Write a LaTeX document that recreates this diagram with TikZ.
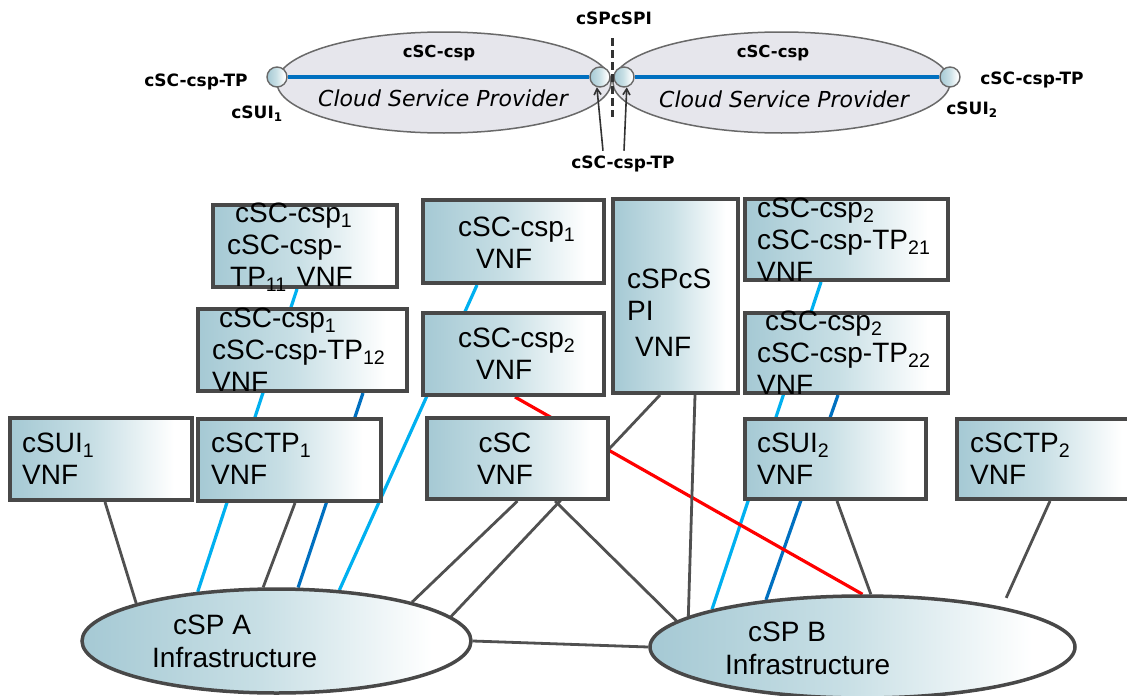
\documentclass[tikz,border=0pt]{standalone}
\usepackage{fontspec}
\setmainfont{Liberation Sans}
\newfontfamily\djv{DejaVu Sans}[BoldFont={DejaVu Sans Bold},ItalicFont={DejaVu Sans Oblique},BoldItalicFont={DejaVu Sans Bold Oblique}]
\usetikzlibrary{arrows.meta,shapes.geometric}
\definecolor{boxblue}{RGB}{165,201,212}
\definecolor{boxmid}{RGB}{200,223,229}
\definecolor{bord}{RGB}{72,72,72}
\definecolor{lgray}{RGB}{80,80,80}
\definecolor{lcyan}{RGB}{0,176,240}
\definecolor{dblue}{RGB}{0,112,192}
\definecolor{topfill}{RGB}{230,230,236}
\definecolor{topbord}{RGB}{105,105,105}
\definecolor{arrowc}{RGB}{50,50,50}
\pgfdeclarehorizontalshading{vnf}{100bp}{color(0bp)=(boxblue); color(25bp)=(boxblue); color(48bp)=(boxmid); color(70bp)=(white); color(100bp)=(white)}
\pgfdeclarelayer{bg}
\pgfsetlayers{bg,main}
\begin{document}
\begin{tikzpicture}[x=1pt,y=-1pt,
  vbox/.style={rectangle, draw=bord, line width=4pt, shade, shading=vnf, inner sep=0pt},
  infra/.style={ellipse, draw=bord, line width=3.5pt, shade, shading=vnf, inner sep=0pt},
  vtxt/.style={font=\fontsize{28}{32}\selectfont, align=left, anchor=west, inner sep=0pt},
  itxt/.style={font=\fontsize{28}{33}\selectfont, align=left, anchor=west, inner sep=0pt},
  topell/.style={ellipse, draw=topbord, line width=1.5pt, fill=topfill, inner sep=0pt},
  tpc/.style={circle, draw=topbord, line width=1.4pt, shade, shading=vnf, minimum size=20pt, inner sep=0pt},
  tlab/.style={font=\djv\bfseries\fontsize{17}{20}\selectfont, inner sep=0pt},
  tname/.style={font=\djv\bfseries\fontsize{16.5}{20}\selectfont, inner sep=0pt},
  tcsp/.style={font=\djv\itshape\fontsize{22}{24}\selectfont, inner sep=0pt},
  topline/.style={draw=dblue, line width=4.5pt},
  dashl/.style={draw=arrowc, line width=3pt, dash pattern=on 8pt off 4pt},
  tparrow/.style={draw=arrowc, line width=1.6pt, -{Straight Barb[length=6pt,width=7pt]}},
  grl/.style={draw=lgray, line width=2.8pt},
  cyl/.style={draw=lcyan, line width=3.2pt},
  dbl/.style={draw=dblue, line width=3.2pt},
  rdl/.style={draw=red, line width=3.2pt}]
\useasboundingbox (0,0) rectangle (1127,696);
\begin{pgfonlayer}{bg}
\fill[white] (0,0) rectangle (1127,696);
\end{pgfonlayer}

% ---------- top: cloud service providers ----------
\node[topell, minimum width=334pt, minimum height=101pt] (TL) at (444,82.5) {};
\node[topell, minimum width=337pt, minimum height=101pt] (TR) at (781.5,82.5) {};
\node[tpc] (c1) at (277,77) {};
\node[tpc] (c2) at (600,77) {};
\node[tpc] (c3) at (624,77) {};
\node[tpc] (c4) at (950,77) {};
\draw[topline] (c1.east) -- (c2.west);
\draw[topline] (c3.east) -- (c4.west);
\coordinate (dtop) at (612,38);
\coordinate (dbot) at (612,117);
\draw[dashl] (dtop) -- (dbot);

\node[tlab] (spi) at (614,18) {cSPcSPI};
\node[tname] (cscL) at (439,53) {cSC-csp};
\node[tname] (cscR) at (773,53) {cSC-csp};
\node[tcsp] (cspL) at (443,98) {Cloud Service Provider};
\node[tcsp] (cspR) at (784,99) {Cloud Service Provider};
\node[tlab] (tpL) at (196,82) {cSC-csp-TP};
\node[tlab] (suiL) at (257,114) {cSUI\textsubscript{1}};
\node[tlab] (tpR) at (1032,80) {cSC-csp-TP};
\node[tlab] (suiR) at (972,110) {cSUI\textsubscript{2}};
\node[tlab] (tpB) at (623,164) {cSC-csp-TP};
\draw[tparrow] ([xshift=-20pt,yshift=5pt]tpB.north) -- (c2.253);
\draw[tparrow] ([xshift=1pt,yshift=5pt]tpB.north) -- (c3.285);

% ---------- VNF boxes ----------
\node[vbox, minimum width=184pt, minimum height=82pt] (B1) at (305,246) {};
\node[vbox, minimum width=209pt, minimum height=82pt] (B2) at (302.5,350) {};
\node[vbox, minimum width=181pt, minimum height=83pt] (B3) at (513.5,241.5) {};
\node[vbox, minimum width=181pt, minimum height=82pt] (B4) at (513.5,354) {};
\node[vbox, minimum width=125pt, minimum height=194pt] (B5) at (675.5,296) {};
\node[vbox, minimum width=203pt, minimum height=81pt] (B6) at (846.5,239.5) {};
\node[vbox, minimum width=203pt, minimum height=80pt] (B7) at (846.5,353) {};
\node[vbox, minimum width=182pt, minimum height=82pt] (C1) at (101,459) {};
\node[vbox, minimum width=183pt, minimum height=82pt] (C2) at (289.5,460) {};
\node[vbox, minimum width=181pt, minimum height=81pt] (C3) at (517.5,458.5) {};
\node[vbox, minimum width=181pt, minimum height=80pt] (C4) at (835.5,459) {};
\node[vbox, minimum width=183pt, minimum height=80pt] (C5) at (1048.5,459) {};
\node[infra, minimum width=389pt, minimum height=104pt] (A) at (276.5,641) {};
\node[infra, minimum width=425pt, minimum height=102pt] (B) at (862.5,647) {};

\node[vtxt] (B1t) at (227,247) {\hspace*{8pt}cSC-csp\textsubscript{1}\\cSC-csp-\\\hspace*{3pt}TP\textsubscript{11}\hspace{10pt}VNF};
\node[vtxt] (B2t) at (212,350) {\hspace*{7pt}cSC-csp\textsubscript{1}\\cSC-csp-TP\textsubscript{12}\\VNF};
\node[vtxt] (B3t) at (458,242.5) {cSC-csp\textsubscript{1}\\\hspace*{18pt}VNF};
\node[vtxt] (B4t) at (458,353.5) {cSC-csp\textsubscript{2}\\\hspace*{18pt}VNF};
\node[vtxt] (B5t) at (627,312.5) {cSPcS\\PI\\[4pt]\hspace*{8pt}VNF};
\node[vtxt] (B6t) at (757,240) {cSC-csp\textsubscript{2}\\cSC-csp-TP\textsubscript{21}\\VNF};
\node[vtxt] (B7t) at (757,352.5) {\hspace*{8pt}cSC-csp\textsubscript{2}\\cSC-csp-TP\textsubscript{22}\\VNF};
\node[vtxt] (C1t) at (22,459) {cSUI\textsubscript{1}\\VNF};
\node[vtxt] (C2t) at (211,459) {cSCTP\textsubscript{1}\\VNF};
\node[vtxt, align=center, anchor=center] (C3t) at (505,459) {cSC\\VNF};
\node[vtxt] (C4t) at (757,459) {cSUI\textsubscript{2}\\VNF};
\node[vtxt] (C5t) at (970,459) {cSCTP\textsubscript{2}\\VNF};
\node[itxt] (At) at (152,641.5) {\hspace*{21pt}cSP A\\Infrastructure};
\node[itxt] (Bt) at (725,648.5) {\hspace*{23pt}cSP B\\Infrastructure};

% ---------- connectors (behind the boxes) ----------
\begin{pgfonlayer}{bg}
\draw[cyl] ([xshift=-8pt]B1.south) -- (A.148);
\draw[cyl] ([xshift=-36.5pt]B3.south) -- (A.39);
\draw[dbl] ([xshift=60.5pt]B2.south) -- (A.68);
\draw[cyl] ([xshift=-25.5pt]B6.south) -- (B.166);
\draw[dbl] ([xshift=-8.5pt]B7.south) -- (B.154);
\draw[rdl] ([xshift=1.5pt]B4.south) -- (B.90);
\draw[grl] ([xshift=4pt]C1.south) -- (A.165);
\draw[grl] ([xshift=5.5pt]C2.south) -- (A.104);
\draw[grl] (C3.south) -- (A.16);
\draw[grl] ([xshift=-15.5pt]B5.south) -- (A.8);
\draw[grl] ([xshift=37.5pt]C3.south) -- (B.172);
\draw[grl] ([xshift=19.5pt]B5.south) -- (B.170);
\draw[grl] (A.east) -- (B.west);
\draw[grl] ([xshift=1.5pt]C4.south) -- (B.81);
\draw[grl, shorten >=10pt] ([xshift=1.5pt]C5.south) -- (B.16);
\end{pgfonlayer}
\end{tikzpicture}
\end{document}
